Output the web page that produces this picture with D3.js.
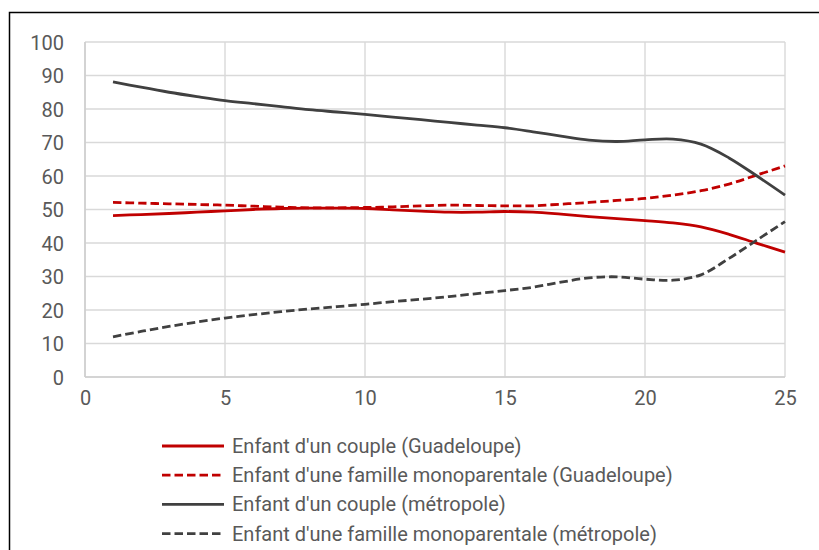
<!DOCTYPE html>
<html>
<head>
<meta charset="utf-8">
<script src="https://cdn.jsdelivr.net/npm/d3@7"></script>
<style>
  html, body { margin: 0; padding: 0; background: #fff; }
  svg { display: block; }
  text { font-family: "Liberation Sans Narrow", "Roboto", "Liberation Sans", sans-serif; fill: #595959; }
</style>
</head>
<body>
<svg id="chart" width="819" height="550"></svg>
<script>
// Ages (years)
const ages = [1, 2, 3, 4, 5, 6, 7, 8, 9, 10, 11, 12, 13, 14, 15, 16, 17, 18, 19, 20, 21, 22, 23, 24, 25];

// Share (%) by family situation
const coupleGuadeloupe = [48.2, 48.5, 48.8, 49.2, 49.6, 50.0, 50.3, 50.4, 50.4, 50.3, 49.9, 49.5, 49.2, 49.2, 49.4, 49.2, 48.6, 47.9, 47.3, 46.7, 46.0, 44.8, 42.6, 39.9, 37.3];
const monoGuadeloupe   = [52.1, 51.9, 51.7, 51.5, 51.3, 51.0, 50.7, 50.5, 50.5, 50.6, 50.8, 51.1, 51.3, 51.2, 51.1, 51.1, 51.6, 52.1, 52.7, 53.3, 54.3, 55.6, 57.6, 60.3, 63.0];
const coupleMetropole  = [88.1, 86.5, 85.0, 83.7, 82.5, 81.6, 80.7, 79.8, 79.1, 78.4, 77.6, 76.8, 76.0, 75.2, 74.4, 73.2, 71.9, 70.7, 70.3, 70.8, 71.0, 69.5, 65.4, 60.0, 54.3];
const monoMetropole    = [12.0, 13.6, 15.1, 16.4, 17.6, 18.6, 19.5, 20.3, 21.0, 21.7, 22.5, 23.2, 24.0, 24.9, 25.8, 26.8, 28.3, 29.6, 29.9, 29.2, 28.9, 30.5, 35.4, 40.9, 46.4];

const seriesNames = [
  "Enfant d'un couple (Guadeloupe)",
  "Enfant d'une famille monoparentale (Guadeloupe)",
  "Enfant d'un couple (métropole)",
  "Enfant d'une famille monoparentale (métropole)"
];

const xTicks = [0, 5, 10, 15, 20, 25];
const yTicks = [0, 10, 20, 30, 40, 50, 60, 70, 80, 90, 100];

const RED = "#C00000", DARK = "#404040";
const series = [
  { name: seriesNames[0], values: coupleGuadeloupe, color: RED,  dash: null },
  { name: seriesNames[1], values: monoGuadeloupe,   color: RED,  dash: "8.5,4" },
  { name: seriesNames[2], values: coupleMetropole,  color: DARK, dash: null },
  { name: seriesNames[3], values: monoMetropole,    color: DARK, dash: "8.5,4" }
];

const svg = d3.select("#chart");

// Chart frame
svg.append("rect")
  .attr("x", 9.5).attr("y", 12.5)
  .attr("width", 830).attr("height", 560)
  .attr("fill", "none").attr("stroke", "#000").attr("stroke-width", 1.5);

const x = d3.scaleLinear().domain([0, 25]).range([85, 785]);
const y = d3.scaleLinear().domain([0, 100]).range([377, 42]);

// Gridlines
const grid = svg.append("g");
grid.selectAll("line.h").data(yTicks).join("line")
  .attr("x1", x(0)).attr("x2", x(25))
  .attr("y1", d => y(d)).attr("y2", d => y(d))
  .attr("stroke", "#d9d9d9").attr("stroke-width", 1.4);
grid.selectAll("line.v").data(xTicks).join("line")
  .attr("y1", y(0)).attr("y2", y(100))
  .attr("x1", d => x(d)).attr("x2", d => x(d))
  .attr("stroke", "#d9d9d9").attr("stroke-width", 1.4);

// Axis lines
svg.append("line").attr("x1", x(0)).attr("x2", x(25)).attr("y1", y(0)).attr("y2", y(0))
  .attr("stroke", "#cfcfcf").attr("stroke-width", 1.6);
svg.append("line").attr("x1", x(0)).attr("x2", x(0)).attr("y1", y(0)).attr("y2", y(100))
  .attr("stroke", "#cfcfcf").attr("stroke-width", 1.6);

// Axes (labels only)
const yAxis = svg.append("g").attr("transform", `translate(${x(0)},0)`)
  .call(d3.axisLeft(y).tickValues(yTicks).tickSize(0).tickPadding(21));
const xAxis = svg.append("g").attr("transform", `translate(0,${y(0)})`)
  .call(d3.axisBottom(x).tickValues(xTicks).tickSize(0).tickPadding(21));
[yAxis, xAxis].forEach(g => {
  g.select(".domain").remove();
  g.selectAll("text").attr("font-size", 20).attr("fill", "#595959")
    .attr("font-family", "\"Liberation Sans Narrow\", Roboto, sans-serif");
});
yAxis.selectAll("text").attr("dy", "0.35em");
xAxis.selectAll("text").attr("dy", "0.35em");

// Series lines
const line = d3.line()
  .x((d, i) => x(ages[i]))
  .y(d => y(d))
  .curve(d3.curveCatmullRom.alpha(0.5));

svg.append("g").selectAll("path").data(series).join("path")
  .attr("d", d => line(d.values))
  .attr("fill", "none")
  .attr("stroke", d => d.color)
  .attr("stroke-width", 2.8)
  .attr("stroke-dasharray", d => d.dash);

// Legend
const legend = svg.append("g");
const rows = legend.selectAll("g").data(series).join("g")
  .attr("transform", (d, i) => `translate(162,${446 + i * 29.2})`);
rows.append("line")
  .attr("x1", 0).attr("x2", 62).attr("y1", 0).attr("y2", 0)
  .attr("stroke", d => d.color).attr("stroke-width", 2.8)
  .attr("stroke-dasharray", d => d.dash);
rows.append("text")
  .attr("x", 70).attr("dy", "0.35em")
  .attr("font-size", 20)
  .text(d => d.name);
</script>
</body>
</html>
